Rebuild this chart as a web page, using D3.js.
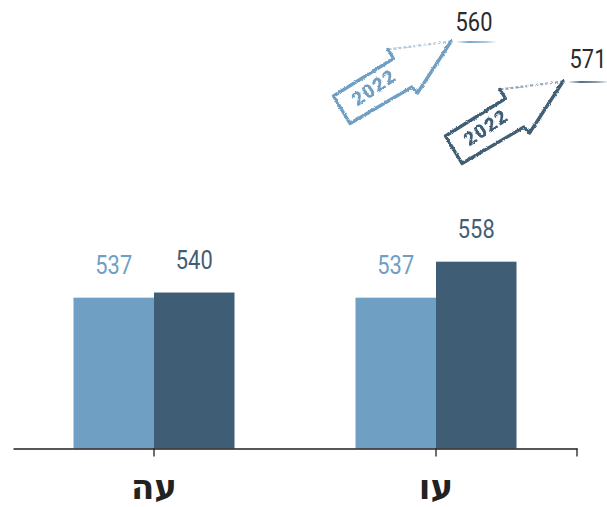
<!DOCTYPE html>
<html>
<head>
<meta charset="utf-8">
<script src="https://cdn.jsdelivr.net/npm/d3@7"></script>
<style>
  html, body { margin: 0; padding: 0; background: #ffffff; }
  svg { display: block; }
</style>
</head>
<body>
<svg id="chart" width="607" height="507"></svg>
<script>
// ---- data ----
const categories = ["עה", "עו"];
const seriesKeys = ["prev", "curr"];
const prevValues = [537, 537];
const currValues = [540, 558];
const targetYear = "2022";
const targetValues = ["560", "571"];

// ---- styles ----
const lightColor = "#6f9fc3";
const darkColor = "#3f5e75";
const seriesColors = [lightColor, darkColor];

const svg = d3.select("#chart");

const defs = svg.append("defs");
const filt = defs.append("filter").attr("id", "rough")
  .attr("x", "-10%").attr("y", "-10%").attr("width", "120%").attr("height", "120%");
filt.append("feTurbulence").attr("type", "fractalNoise").attr("baseFrequency", 0.9)
  .attr("numOctaves", 2).attr("seed", 3).attr("result", "noise");
filt.append("feDisplacementMap").attr("in", "SourceGraphic").attr("in2", "noise")
  .attr("scale", 2.6).attr("xChannelSelector", "R").attr("yChannelSelector", "G");

// ---- scales ----
const x0 = d3.scaleBand().domain(categories).range([13, 577]).paddingInner(0).paddingOuter(0);
const groupW = 161;
const x1 = d3.scaleBand().domain(seriesKeys).range([0, groupW]).padding(0);
const y = d3.scaleLinear().domain([449, 700]).range([448.5, 18.3]);

const rows = categories.map((c, i) => ({ cat: c, vals: [prevValues[i], currValues[i]] }));

const g = svg.append("g");
const groups = g.selectAll("g.grp").data(rows).join("g")
  .attr("class", "grp")
  .attr("transform", d => `translate(${x0(d.cat) + (x0.bandwidth() - groupW) / 2},0)`);

groups.selectAll("rect").data(d => d.vals.map((v, j) => ({ key: seriesKeys[j], v, j })))
  .join("rect")
  .attr("x", d => x1(d.key))
  .attr("width", x1.bandwidth())
  .attr("y", d => y(d.v))
  .attr("height", d => y.range()[0] - y(d.v))
  .attr("fill", d => seriesColors[d.j]);

groups.selectAll("text.val").data(d => d.vals.map((v, j) => ({ key: seriesKeys[j], v, j })))
  .join("text")
  .attr("class", "val")
  .attr("transform", d => `translate(${x1(d.key) + x1.bandwidth() / 2},${y(d.v) - 23.5}) scale(0.84,1)`)
  .attr("text-anchor", "middle")
  .attr("font-family", "Roboto, sans-serif")
  .attr("font-size", 26)
  .attr("fill", d => seriesColors[d.j])
  .text(d => d.v);

// ---- axis ----
const axisG = svg.append("g").attr("transform", `translate(0,${y.range()[0]})`)
  .call(d3.axisBottom(x0).tickSize(8).tickSizeOuter(0).tickFormat(""));
axisG.selectAll("path, line").attr("stroke", "#1f1f1f").attr("stroke-width", 1.3);
axisG.append("line").attr("x1", x0.range()[1]).attr("x2", x0.range()[1])
  .attr("y1", 0).attr("y2", 8).attr("stroke", "#1f1f1f").attr("stroke-width", 1.3);

svg.selectAll("text.cat").data(categories).join("text")
  .attr("class", "cat")
  .attr("x", d => x0(d) + x0.bandwidth() / 2)
  .attr("y", 499)
  .attr("text-anchor", "middle")
  .attr("font-family", "'DejaVu Sans', sans-serif")
  .attr("font-weight", "bold")
  .attr("font-size", 34)
  .attr("fill", "#222")
  .text(d => d);

// ---- 2022 arrows (annotations) ----
const arrowTips = [[451, 41.5], [563, 81.5]];
const arrowColors = [lightColor, darkColor];
const labelOffsets = [[23, -10.5], [25, -13.5]];
const shape = [[-63, 8], [-57.5, 17], [-117.5, 54.5], [-101, 82], [-39, 45.5], [-33.5, 51.5], [0, 0]];

targetValues.forEach((val, i) => {
  const [tx, ty] = arrowTips[i];
  const col = arrowColors[i];
  const a = svg.append("g").attr("transform", `translate(${tx},${ty})`);

  const grad = defs.append("linearGradient").attr("id", "ul" + i)
    .attr("x1", "0%").attr("x2", "100%").attr("y1", "0%").attr("y2", "0%");
  grad.append("stop").attr("offset", "0%").attr("stop-color", col).attr("stop-opacity", 0.1);
  grad.append("stop").attr("offset", "30%").attr("stop-color", col).attr("stop-opacity", 0.9);
  grad.append("stop").attr("offset", "70%").attr("stop-color", col).attr("stop-opacity", 0.6);
  grad.append("stop").attr("offset", "100%").attr("stop-color", col).attr("stop-opacity", 0);
  a.append("rect").attr("x", 6).attr("y", -0.5).attr("width", 40).attr("height", 2)
    .attr("fill", `url(#ul${i})`);

  const sk = a.append("g").attr("filter", "url(#rough)");
  sk.append("path")
    .attr("d", d3.line()(shape))
    .attr("fill", "none").attr("stroke", col).attr("stroke-width", 3.3)
    .attr("stroke-linejoin", "round").attr("stroke-linecap", "round");
  sk.append("path")
    .attr("d", d3.line()([[0, 0], [-63, 8]]))
    .attr("fill", "none").attr("stroke", col).attr("stroke-width", 2.2)
    .attr("stroke-dasharray", "3,2").attr("opacity", 0.55);
  sk.append("text")
    .attr("transform", "translate(-77,46) rotate(-34)")
    .attr("text-anchor", "middle").attr("dominant-baseline", "central")
    .attr("font-family", "Roboto, sans-serif").attr("font-weight", 900)
    .attr("font-size", 19).attr("letter-spacing", 1.3)
    .attr("fill", col)
    .text(targetYear);

  a.append("text")
    .attr("transform", `translate(${labelOffsets[i][0]},${labelOffsets[i][1]}) scale(0.84,1)`)
    .attr("text-anchor", "middle")
    .attr("font-family", "Roboto, sans-serif")
    .attr("font-size", 26)
    .attr("fill", "#2b2b2b")
    .text(val);
});
</script>
</body>
</html>
